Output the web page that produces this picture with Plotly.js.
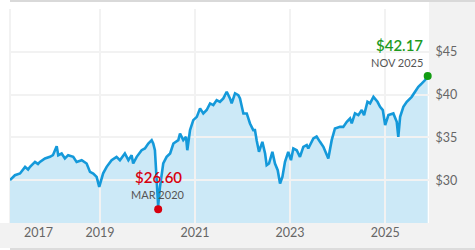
<!DOCTYPE html>
<html>
<head>
<meta charset="utf-8">
<script src="https://cdn.plot.ly/plotly-3.0.1.min.js"></script>
<style>html,body{margin:0;padding:0;background:#fff}#chart{width:475px;height:250px}</style>
</head>
<body>
<div id="chart"></div>
<script>
var dates = ["2017-02-08","2017-03-18","2017-04-26","2017-06-04","2017-06-27","2017-07-12","2017-08-19","2017-09-11","2017-09-26","2017-11-04","2017-12-12","2018-01-04","2018-02-02","2018-02-14","2018-03-12","2018-04-06","2018-05-01","2018-06-09","2018-07-05","2018-08-13","2018-09-20","2018-10-16","2018-11-10","2018-12-06","2018-12-26","2019-01-25","2019-02-21","2019-03-31","2019-05-08","2019-06-03","2019-07-11","2019-08-07","2019-09-01","2019-09-13","2019-10-10","2019-11-17","2019-12-12","2020-01-07","2020-02-02","2020-02-14","2020-02-27","2020-03-11","2020-03-23","2020-04-06","2020-05-01","2020-05-27","2020-06-23","2020-07-18","2020-08-25","2020-09-07","2020-10-02","2020-10-23","2020-11-02","2020-11-23","2020-12-18","2021-01-14","2021-02-08","2021-03-05","2021-03-31","2021-04-26","2021-05-21","2021-06-16","2021-07-11","2021-08-06","2021-09-01","2021-09-26","2021-10-09","2021-11-04","2021-11-29","2021-12-12","2021-12-25","2022-01-07","2022-02-02","2022-02-27","2022-03-24","2022-04-06","2022-04-19","2022-05-07","2022-06-02","2022-06-23","2022-07-05","2022-07-23","2022-08-18","2022-09-07","2022-09-28","2022-10-16","2022-11-03","2022-11-23","2022-12-18","2023-01-08","2023-01-26","2023-02-21","2023-03-18","2023-04-13","2023-05-09","2023-05-21","2023-06-29","2023-07-24","2023-08-19","2023-09-14","2023-10-22","2023-11-17","2023-12-12","2024-01-20","2024-02-14","2024-03-12","2024-04-06","2024-04-19","2024-05-14","2024-06-09","2024-07-05","2024-07-23","2024-08-18","2024-09-07","2024-10-03","2024-11-03","2024-11-23","2024-12-14","2025-01-01","2025-01-26","2025-03-05","2025-03-31","2025-04-12","2025-04-26","2025-05-21","2025-06-16","2025-07-24","2025-08-19","2025-09-13","2025-10-10","2025-11-04","2025-11-24"];
var prices = [30.0,30.58,30.78,31.56,31.25,31.56,32.14,31.9,32.14,32.54,32.73,32.92,33.98,32.92,33.12,32.54,32.92,32.73,32.14,32.34,31.95,30.97,30.78,30.39,29.22,30.8,31.56,32.34,32.73,32.34,33.12,32.34,32.92,31.95,32.73,33.51,33.71,34.29,34.68,34.29,33.5,30.39,27.0,29.22,31.95,32.73,33.12,34.29,34.68,35.46,34.68,35.07,33.5,35.85,37.02,37.4,38.39,37.8,38.2,38.97,38.78,39.36,39.16,39.55,40.33,39.55,38.97,40.14,39.94,39.55,38.58,37.8,37.8,36.63,35.85,35.85,34.68,33.31,34.48,33.12,31.75,31.95,33.31,31.95,31.17,29.61,30.39,32.14,33.31,32.34,33.71,33.5,32.73,33.9,34.1,33.7,34.87,35.1,34.48,33.9,32.54,34.68,36.04,36.23,36.23,36.82,37.21,36.63,37.8,37.6,38.19,37.6,39.16,38.97,39.74,39.16,38.58,38.19,36.43,37.6,37.8,36.82,35.07,37.4,38.58,39.16,39.74,40.33,40.91,41.31,41.7,42.17];

var lowDate = "2020-03-23", lowValue = 26.60, lowLabel = "$26.60", lowSub = "MAR 2020";
var lastDate = "2025-11-24", lastValue = 42.17, lastLabel = "$42.17", lastSub = "NOV 2025";

var xTickVals = ["2017-09-15","2019-01-01","2021-01-01","2023-01-01","2025-01-01"];
var xTickText = ["2017","2019","2021","2023","2025"];
var xGridVals = ["2019-01-01","2021-01-01","2023-01-01","2025-01-01"];
var yTickVals = [25,30,35,40,45,50];
var yTickText = ["","$30","$35","$40","$45",""];

var xRange = ["2017-02-08","2025-12-04"];
var yRange = [25,50];
var FONT = "Lato, 'Open Sans', sans-serif";

var traces = [
  {x: dates, y: prices, xaxis: "x", yaxis: "y", type: "scatter", mode: "none",
   fill: "tozeroy", fillcolor: "#cce9f7", hoverinfo: "skip"},
  {x: dates, y: prices, xaxis: "x2", yaxis: "y2", type: "scatter", mode: "lines",
   line: {color: "#1499da", width: 2.6}, hoverinfo: "skip"},
  {x: [lowDate], y: [lowValue], xaxis: "x2", yaxis: "y2", type: "scatter", mode: "markers",
   marker: {color: "#d7000f", size: 8}, cliponaxis: false},
  {x: [lastDate], y: [lastValue], xaxis: "x2", yaxis: "y2", type: "scatter", mode: "markers",
   marker: {color: "#129c12", size: 8}, cliponaxis: false}
];

var H = 214, W = 419;
var layout = {
  width: 475, height: 250,
  margin: {l: 10, r: 46, t: 9, b: 27, pad: 0},
  paper_bgcolor: "#ffffff", plot_bgcolor: "rgba(0,0,0,0)",
  showlegend: false,
  font: {family: FONT, size: 12, color: "#666"},
  xaxis: {domain: [0,1], anchor: "y", type: "date", range: xRange, showgrid: false,
          zeroline: false, tickmode: "array", tickvals: xTickVals, ticktext: xTickText,
          ticks: "", tickfont: {family: FONT, size: 12.5, color: "#666"}, showline: false, fixedrange: true},
  yaxis: {domain: [0,1], anchor: "x", range: yRange, visible: false, showgrid: false, zeroline: false, fixedrange: true},
  xaxis2: {domain: [0,1], anchor: "y2", type: "date", range: xRange, showgrid: true,
           gridcolor: "#f2f2f2", gridwidth: 2, tickmode: "array", tickvals: xGridVals,
           showticklabels: false, zeroline: false, fixedrange: true},
  yaxis2: {domain: [0,1], anchor: "x2", side: "right", range: yRange, showgrid: true,
           gridcolor: "#f2f2f2", gridwidth: 2, tickmode: "array", tickvals: yTickVals,
           ticktext: yTickText, ticks: "outside", ticklen: 3, tickcolor: "rgba(0,0,0,0)",
           tickfont: {family: FONT, size: 12.5, color: "#666"}, zeroline: false, fixedrange: true},
  shapes: [
    {type: "rect", xref: "paper", yref: "paper", x0: 1, x1: 1 + 47/W, y0: -27/H, y1: 1 + 7/H,
     fillcolor: "#f2f2f2", line: {width: 0}, layer: "below"},
    {type: "rect", xref: "paper", yref: "paper", x0: -11/W, x1: 1 + 47/W, y0: -25/H, y1: 0,
     fillcolor: "#f2f2f2", line: {width: 0}, layer: "below"},
    {type: "rect", xref: "paper", yref: "paper", x0: 0, x1: 1 + 47/W, y0: -28/H, y1: -25/H,
     fillcolor: "#dcdcdc", line: {width: 0}, layer: "below"},
    {type: "rect", xref: "paper", yref: "paper", x0: 0, x1: 1 + 47/W, y0: 1 + 7/H, y1: 1 + 10/H,
     fillcolor: "#d9d9d9", line: {width: 0}, layer: "below"},
    {type: "line", xref: "paper", yref: "paper", x0: 0, x1: 0, y0: 0, y1: 1,
     line: {color: "#f2f2f2", width: 2}, layer: "below"}
  ],
  annotations: [
    {xref: "x2", yref: "y2", x: lastDate, y: lastValue, text: lastLabel, showarrow: false,
     xanchor: "right", yanchor: "middle", xshift: -3, yshift: 31,
     font: {family: FONT, size: 15, color: "#1e9a1e", weight: 600}},
    {xref: "x2", yref: "y2", x: lastDate, y: lastValue, text: lastSub, showarrow: false,
     xanchor: "right", yanchor: "middle", xshift: -3, yshift: 14,
     font: {family: FONT, size: 11, color: "#555"}},
    {xref: "x2", yref: "y2", x: lowDate, y: lowValue, text: lowLabel, showarrow: false,
     xanchor: "center", yanchor: "middle", xshift: 0, yshift: 32,
     font: {family: FONT, size: 15, color: "#d7000f", weight: 600}},
    {xref: "x2", yref: "y2", x: lowDate, y: lowValue, text: lowSub, showarrow: false,
     xanchor: "center", yanchor: "middle", xshift: 0, yshift: 15,
     font: {family: FONT, size: 11, color: "#555"}}
  ]
};

Plotly.newPlot("chart", traces, layout, {staticPlot: true, displayModeBar: false});
</script>
</body>
</html>
